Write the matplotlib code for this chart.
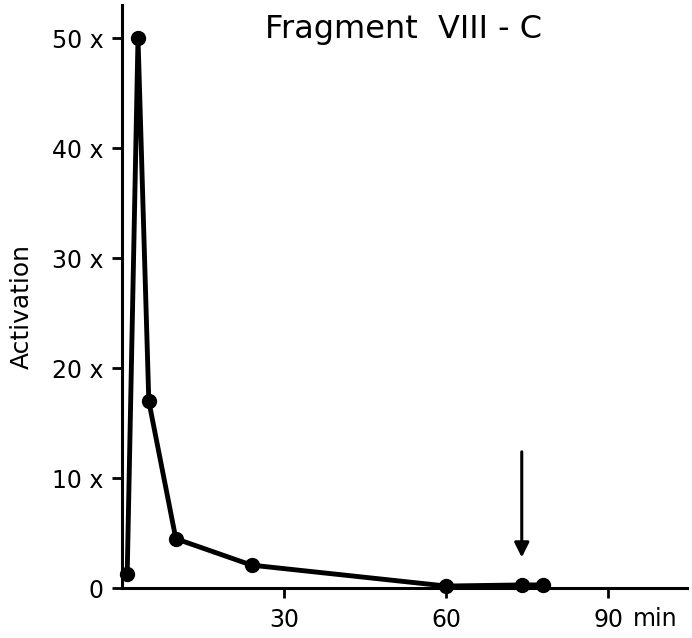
import numpy as np
import matplotlib.pyplot as plt
from matplotlib.transforms import blended_transform_factory, offset_copy

# time course of activation, fragment VIII-C
time_min = [1, 3, 5, 10, 24, 60, 74, 78]
activation = [1.3, 50, 17, 4.5, 2.1, 0.2, 0.3, 0.3]

yticks = [0, 10, 20, 30, 40, 50]
ytick_labels = ["0", "10 x", "20 x", "30 x", "40 x", "50 x"]
xticks = [30, 60, 90]
xtick_labels = ["30", "60", "90"]

arrow_t = 74

plt.rcParams['font.family'] = ['DejaVu Sans']

fig = plt.figure(figsize=(6.92, 6.38), dpi=100)
ax = fig.add_axes([0.176, 0.078, 0.817, 0.914])

ax.plot(time_min, activation, color='black', lw=3.5, marker='o',
        markersize=10, solid_joinstyle='round', clip_on=False, zorder=3)

ax.annotate('', xy=(arrow_t, 2.8), xytext=(arrow_t, 12.4),
            arrowprops=dict(arrowstyle='-|>', color='black', lw=2.2,
                            mutation_scale=22, shrinkA=0, shrinkB=0))

ax.set_xlim(0, 104.6)
ax.set_ylim(0, 53)
ax.set_yticks(yticks)
ax.set_yticklabels(ytick_labels)
ax.set_xticks(xticks)
ax.set_xticklabels(xtick_labels)

for s in ['top', 'right']:
    ax.spines[s].set_visible(False)
for s in ['left', 'bottom']:
    ax.spines[s].set_linewidth(2.2)

ax.tick_params(axis='both', direction='out', length=7, width=2,
               labelsize=17, pad=6)
ax.tick_params(axis='x', pad=7)

# unit after the last x tick label
tr = blended_transform_factory(ax.transData, ax.transAxes)
ax.text(xticks[-1], 0, 'min', transform=offset_copy(tr, fig=fig, x=18, y=-27.5, units='points'),
        ha='left', va='baseline', fontsize=17)

fig.text(0.032, 0.52, 'Activation', rotation=90, ha='center', va='center',
         fontsize=18)
fig.text(0.583, 0.953, 'Fragment  VIII - C', ha='center', va='center',
         fontsize=23)

fig.savefig('out.png', dpi=100)
